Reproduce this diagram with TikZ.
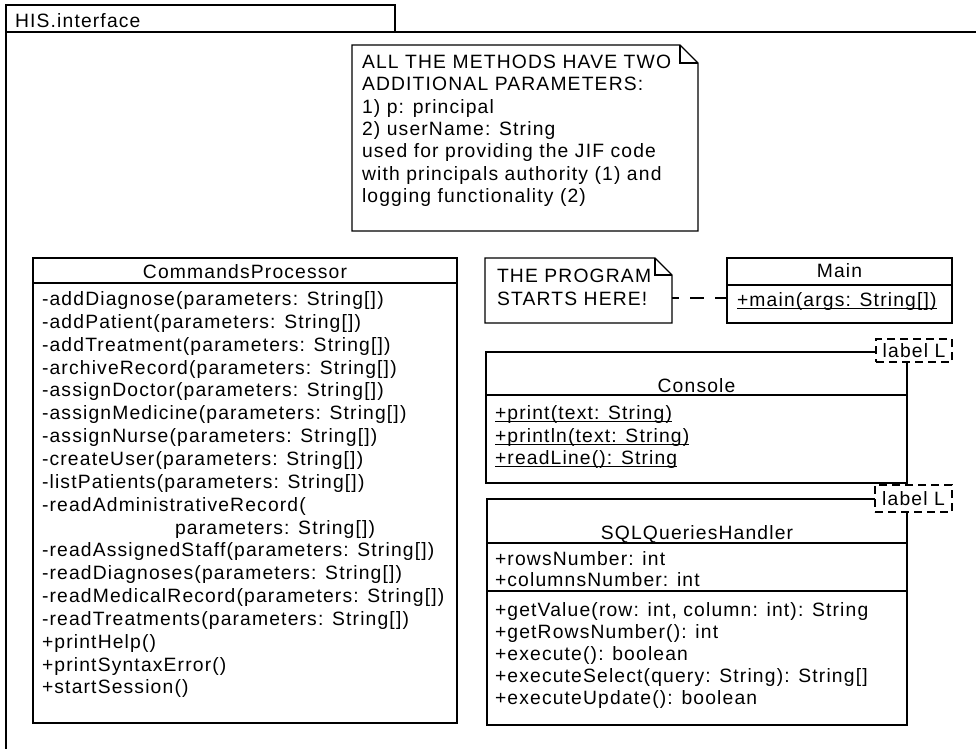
\documentclass[tikz,border=0pt]{standalone}
\usepackage{fontspec}
\setmainfont{Liberation Sans}[LetterSpace=6]
\usetikzlibrary{calc}

% static (underlined) member
\newcommand\staticop[1]{\setbox0=\hbox{#1}\rlap{\rule[-2.4pt]{\wd0}{0.9pt}}\box0}

\begin{document}
\begin{tikzpicture}[x=1pt,y=-1pt,
  every node/.style={font=\fontsize{19.3pt}{22pt}\selectfont, inner sep=0pt, outer sep=0pt},
  ln/.style={line width=1.3pt, draw=black},
  lbl/.style={line width=1.2pt, draw=black, dash pattern=on 8pt off 5pt},
  txt/.style={anchor=base west},
  ctr/.style={anchor=base},
  area/.style={anchor=north west, minimum width=#1},
  conn/.style={line width=1.3pt, draw=black, dash pattern=on 14pt off 11pt, dash phase=7pt}
]
\useasboundingbox (0,0) rectangle (976,748);
\clip (0,0) rectangle (976,748);
\fill[white] (0,0) rectangle (976,748);

% ---------- package frame ----------
\node[ln, area=389pt, minimum height=27pt] (tab) at (6,5) {};
\node[txt] (pkgname) at (15,27) {HIS.interface};
\coordinate (frameBL) at (6,770);
\coordinate (frameTR) at (1000,32);
\draw[ln] (frameBL) -- (tab.south west) -- (frameTR);

% ---------- note on method parameters ----------
\node[area=346pt, minimum height=186pt] (note1) at (352,45) {};
\draw[ln] (note1.north west) -- ([xshift=-18pt]note1.north east)
  -- ([yshift=-18pt]note1.north east) -- (note1.south east)
  -- (note1.south west) -- cycle;
\draw[ln] ([xshift=-18pt]note1.north east) -- ([xshift=-18pt,yshift=-18pt]note1.north east)
  -- ([yshift=-18pt]note1.north east);
\foreach \t [count=\i] in {
  {ALL THE METHODS HAVE TWO},
  {ADDITIONAL PARAMETERS:},
  {1) p: principal},
  {2) userName: String},
  {used for providing the JIF code},
  {with principals authority (1) and},
  {logging functionality (2)}}
  \node[txt] (n1l\i) at (362,{68.5+22.3*(\i-1)}) {\t};

% ---------- CommandsProcessor ----------
\node[ln, area=424pt, minimum height=465pt] (cp) at (33,258) {};
\draw[ln] (33,283) -- (457,283);
\node[ctr] (cpname) at (245,278) {CommandsProcessor};
\foreach \xx/\t [count=\i] in {
  42/{-addDiagnose(parameters: String[])},
  42/{-addPatient(parameters: String[])},
  42/{-addTreatment(parameters: String[])},
  42/{-archiveRecord(parameters: String[])},
  42/{-assignDoctor(parameters: String[])},
  42/{-assignMedicine(parameters: String[])},
  42/{-assignNurse(parameters: String[])},
  42/{-createUser(parameters: String[])},
  42/{-listPatients(parameters: String[])},
  42/{-readAdministrativeRecord(},
  175/{parameters: String[])},
  42/{-readAssignedStaff(parameters: String[])},
  42/{-readDiagnoses(parameters: String[])},
  42/{-readMedicalRecord(parameters: String[])},
  42/{-readTreatments(parameters: String[])},
  42/{+printHelp()},
  42/{+printSyntaxError()},
  42/{+startSession()}}
  \node[txt] (cpm\i) at (\xx,{305.5+22.85*(\i-1)}) {\t};

% ---------- start note and Main ----------
\node[area=187pt, minimum height=65pt] (note2) at (485,258) {};
\draw[ln] (note2.north west) -- ([xshift=-17pt]note2.north east)
  -- ([yshift=-17pt]note2.north east) -- (note2.south east)
  -- (note2.south west) -- cycle;
\draw[ln] ([xshift=-17pt]note2.north east) -- ([xshift=-17pt,yshift=-17pt]note2.north east)
  -- ([yshift=-17pt]note2.north east);
\node[txt] (n2a) at (497,282) {THE PROGRAM};
\node[txt] (n2b) at (497,305) {STARTS HERE!};

\node[ln, area=225pt, minimum height=65pt] (main) at (727,258) {};
\draw[ln] (727,285) -- (952,285);
\node[ctr] (mainname) at (839.5,277) {Main};
\node[txt] (mainop) at (737,306) {\staticop{+main(args: String[])}};

\draw[conn] ([yshift=-7.5pt]note2.east) -- ([yshift=-7.5pt]main.west);

% ---------- Console ----------
\node[area=421pt, minimum height=131pt] (console) at (486,352) {};
\node[lbl, area=76pt, minimum height=23pt] (consoleL) at (876,339) {label L};
\draw[ln] (consoleL.west |- console.north) -- (console.north west)
  -- (console.south west) -- (console.south east) -- (console.east |- consoleL.south);
\draw[ln] (486,395) -- (907,395);
\node[ctr] (consolename) at (696.5,392.5) {Console};
\node[txt] (co1) at (495,419.5) {\staticop{+print(text: String)}};
\node[txt] (co2) at (495,442) {\staticop{+println(text: String)}};
\node[txt] (co3) at (495,464.5) {\staticop{+readLine(): String}};

% ---------- SQLQueriesHandler ----------
\node[area=420pt, minimum height=226pt] (sql) at (487,499) {};
\node[lbl, area=77pt, minimum height=27pt] (sqlL) at (875,485) {label L};
\draw[ln] (sqlL.west |- sql.north) -- (sql.north west)
  -- (sql.south west) -- (sql.south east) -- (sql.east |- sqlL.south);
\draw[ln] (487,543) -- (907,543);
\draw[ln] (487,591) -- (907,591);
\node[ctr] (sqlname) at (697,539.5) {SQLQueriesHandler};
\node[txt] (sa1) at (495,565.5) {+rowsNumber: int};
\node[txt] (sa2) at (495,586.5) {+columnsNumber: int};
\foreach \t [count=\i] in {
  {+getValue(row: int, column: int): String},
  {+getRowsNumber(): int},
  {+execute(): boolean},
  {+executeSelect(query: String): String[]},
  {+executeUpdate(): boolean}}
  \node[txt] (sm\i) at (495,{616.5+22*(\i-1)}) {\t};
\end{tikzpicture}
\end{document}
